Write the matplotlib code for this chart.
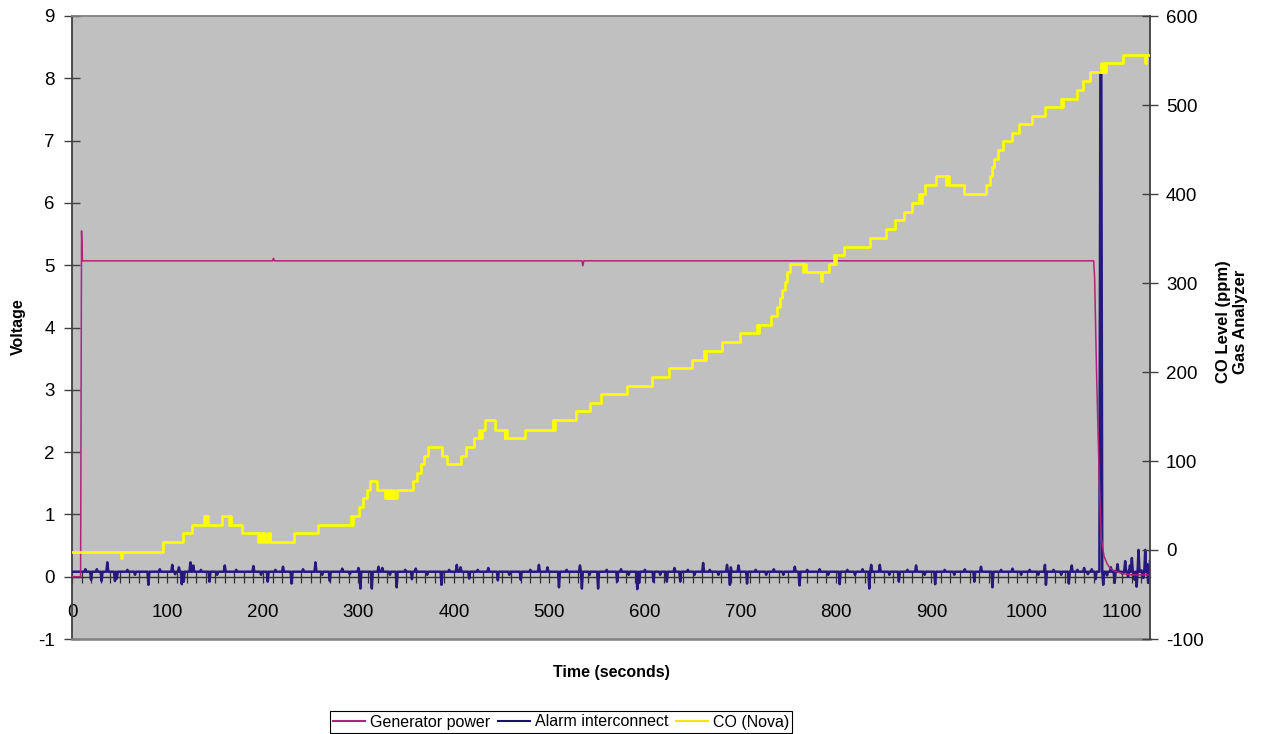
import numpy as np
import matplotlib
matplotlib.use("Agg")
import matplotlib.pyplot as plt
from matplotlib.ticker import MultipleLocator
from matplotlib.lines import Line2D

plt.rcParams['font.family'] = ['Liberation Sans', 'DejaVu Sans']
plt.rcParams['axes.unicode_minus'] = False

# ---------------- data ----------------
# Generator power (V)
GEN_T = [0, 9, 10, 11, 210, 211, 212, 534, 535, 536, 1070, 1071, 1073, 1076,
         1078, 1081, 1084, 1087, 1091, 1094, 1100, 1110, 1129]
GEN_V = [0.0, 0.0, 5.55, 5.07, 5.07, 5.11, 5.07, 5.07, 4.99, 5.07, 5.07, 4.8,
         3.3, 1.45, 0.6, 0.32, 0.21, 0.14, 0.1, 0.08, 0.05, 0.03, 0.03]

# Alarm interconnect (V): baseline level plus read-off excursions
ALARM_BASE = 0.08
ALARM_END = 1129
ALARM_EVT_T = [14, 20, 26, 31, 37, 45, 47, 58, 66, 80, 92, 105, 108, 112, 115,
               117, 124, 127, 135, 144, 152, 160, 172, 190, 198, 205, 213, 221,
               230, 242, 255, 262, 270, 283, 291, 300, 302, 314, 321, 325, 333,
               340, 349, 356, 360, 372, 387, 395, 403, 407, 416, 425, 436, 446,
               458, 470, 480, 489, 498, 510, 518, 532, 534, 542, 551, 560, 571,
               575, 583, 592, 594, 600, 609, 616, 623, 631, 637, 645, 652, 661,
               668, 677, 686, 689, 690, 698, 707, 716, 727, 735, 745, 757, 762,
               770, 783, 792, 804, 812, 820, 828, 835, 837, 846, 856, 866, 875,
               884, 893, 904, 914, 924, 935, 945, 952, 964, 973, 985, 994, 1003,
               1012, 1019, 1020, 1028, 1036, 1044, 1047, 1053, 1060, 1064, 1068,
               1072, 1077, 1078, 1080, 1084, 1088, 1092, 1095, 1100, 1103, 1106,
               1108, 1110, 1113, 1115, 1117, 1120, 1122, 1124, 1126, 1127, 1129]
ALARM_EVT_V = [0.12, -0.05, 0.12, -0.07, 0.23, -0.07, -0.03, 0.11, 0.03, -0.13,
               0.12, 0.19, 0.04, 0.15, -0.12, -0.08, 0.23, 0.18, 0.11, -0.08,
               0.03, 0.18, 0.11, 0.17, 0.03, -0.08, 0.11, 0.16, -0.11, 0.12,
               0.23, 0.03, -0.07, 0.13, 0.04, 0.14, -0.19, -0.19, 0.16, 0.14,
               0.03, -0.17, 0.11, -0.04, 0.13, 0.03, -0.13, 0.11, 0.19, 0.15,
               -0.03, 0.11, 0.14, -0.06, 0.03, -0.05, 0.11, 0.19, 0.15, -0.17,
               0.11, 0.18, -0.19, 0.03, -0.19, 0.11, -0.08, 0.12, 0.03, -0.2,
               -0.1, 0.11, -0.08, 0.03, -0.08, 0.14, -0.08, 0.11, 0.03, 0.22,
               0.11, 0.03, 0.19, -0.13, 0.15, 0.18, -0.11, 0.11, 0.03, 0.12,
               0.03, 0.16, -0.14, 0.11, 0.12, 0.03, -0.12, 0.11, 0.03, 0.12,
               -0.19, 0.19, 0.19, 0.03, -0.08, 0.11, 0.18, 0.03, -0.12, 0.11,
               0.03, 0.12, -0.08, 0.16, -0.17, 0.11, 0.13, 0.03, 0.11, 0.03,
               0.19, -0.13, 0.11, 0.03, -0.11, 0.18, 0.11, 0.14, 0.04, 0.12,
               -0.04, 8.1, 8.1, -0.13, 0.02, 0.15, -0.1, 0.2, 0.05, 0.25, 0.0,
               0.18, 0.3, -0.05, -0.16, 0.43, 0.1, -0.02, 0.43, 0.2, -0.1, 0.25]

# CO (Nova), ppm, step changes (start time, level)
CO_T = [0, 51, 52, 95, 116, 126, 138, 139, 140, 142, 157, 164, 165, 167, 178,
        195, 196, 198, 200, 202, 205, 207, 233, 258, 292, 293, 294, 301, 305,
        309, 312, 319, 328, 330, 331, 333, 334, 336, 337, 340, 357, 361, 366,
        369, 373, 387, 393, 407, 413, 421, 426, 427, 429, 433, 443, 453, 454,
        456, 474, 504, 505, 506, 528, 542, 554, 581, 607, 625, 649, 662, 663,
        664, 681, 700, 717, 718, 719, 732, 738, 741, 744, 747, 749, 752, 766,
        767, 769, 784, 785, 793, 798, 799, 800, 808, 836, 852, 862, 871, 880,
        887, 889, 890, 893, 905, 915, 916, 919, 934, 957, 961, 964, 966, 970,
        975, 984, 992, 1005, 1019, 1036, 1037, 1038, 1053, 1059, 1066, 1078,
        1079, 1081, 1082, 1083, 1101, 1124, 1125, 1129]
CO_PPM = [-2, -9, -2, 9, 19, 28, 38, 28, 38, 28, 38, 28, 38, 28, 19,
          9, 19, 9, 19, 9, 19, 9, 19, 28, 38, 28, 38, 48, 58,
          67, 77, 67, 58, 67, 58, 67, 58, 67, 58, 67, 77, 87, 97,
          106, 116, 106, 97, 106, 116, 126, 135, 126, 135, 146, 135, 126, 135,
          126, 135, 146, 135, 146, 156, 165, 175, 184.5, 194, 204, 214, 224, 214,
          224, 234, 243.5, 253, 243.5, 253, 263, 273, 283, 292, 301.5, 312, 321, 312,
          321, 312, 302, 312, 321, 331, 321, 331, 341, 351, 361, 371, 380, 390,
          400, 390, 400, 410, 420, 410, 420, 410, 400, 410, 420, 430, 439, 449,
          459, 469, 479, 488, 497.5, 507, 497.5, 507, 517, 527, 537, 547,
          537, 547, 537, 547, 556, 547, 556, 556]

LEGEND_LABELS = ["Generator power", "Alarm interconnect", "CO (Nova)"]

# ---------------- build alarm series ----------------
alarm_t = np.arange(0, ALARM_END + 1)
alarm_v = np.full(alarm_t.shape, ALARM_BASE, dtype=float)
for t, v in zip(ALARM_EVT_T, ALARM_EVT_V):
    alarm_v[t] = v

# ---------------- figure ----------------
W, H = 1262, 734
fig = plt.figure(figsize=(W / 100, H / 100), dpi=100)
L, R, T, B = 72, 1150, 16, 639
ax = fig.add_axes([L / W, 1 - B / H, (R - L) / W, (B - T) / H])
ax.set_facecolor('#C0C0C0')

c_gen = '#AE2478'
c_alarm = '#27197C'
c_co = '#FFFF00'

ax.plot(alarm_t, alarm_v, color=c_alarm, lw=1.8, zorder=3)
ax.plot(GEN_T, GEN_V, color=c_gen, lw=1.1, zorder=4)

ax.set_xlim(0, 1129)
ax.set_ylim(-1, 9)
ax.yaxis.set_major_locator(MultipleLocator(1))
ax.xaxis.set_major_locator(MultipleLocator(100))
ax.xaxis.set_minor_locator(MultipleLocator(10))

ax.spines['bottom'].set_position(('data', 0))
ax.spines['bottom'].set_color('#303030')
ax.spines['bottom'].set_linewidth(1.0)
ax.spines['left'].set_color('#404040')
ax.spines['left'].set_linewidth(1.3)
ax.spines['right'].set_visible(False)
ax.spines['top'].set_color('#808080')
ax.spines['top'].set_linewidth(1.3)
ax.axhline(-1, color='#808080', lw=1.8, clip_on=False, zorder=5)

ax.tick_params(axis='x', which='both', direction='inout', length=8,
               width=0.9, color='#303030', labelsize=13.5, pad=16)
ax.tick_params(axis='y', which='major', direction='inout', length=11,
               width=1.0, color='#404040', labelsize=13.5, pad=7)

ax2 = ax.twinx()
ax2.plot(CO_T, CO_PPM, color=c_co, lw=1.9, drawstyle='steps-post', zorder=3)
ax2.set_ylim(-100, 600)
ax2.yaxis.set_major_locator(MultipleLocator(100))
ax2.spines['right'].set_color('#404040')
ax2.spines['right'].set_linewidth(1.3)
for s in ['left', 'top', 'bottom']:
    ax2.spines[s].set_visible(False)
ax2.tick_params(axis='y', which='major', direction='inout', length=11,
                width=1.0, color='#404040', labelsize=13.5, pad=6)

# labels
fig.text(18 / W, 1 - 327 / H, 'Voltage', rotation=90, ha='center',
         va='center', fontsize=11.5, fontweight='bold')
fig.text(611 / W, 1 - 672 / H, 'Time (seconds)', ha='center', va='center',
         fontsize=11.5, fontweight='bold')
fig.text(1232 / W, 1 - 322 / H, 'CO Level (ppm)\nGas Analyzer', rotation=90,
         ha='center', va='center', fontsize=12, fontweight='bold',
         multialignment='center', linespacing=1.15)

handles = [Line2D([], [], color=c_gen, lw=1.5),
           Line2D([], [], color='#1A1070', lw=1.5),
           Line2D([], [], color='#F0E800', lw=1.5)]
leg = fig.legend(handles, LEGEND_LABELS, loc='center', ncol=3,
                 bbox_to_anchor=(561 / W, 1 - 722 / H), fontsize=11.5,
                 frameon=True, fancybox=False, framealpha=1,
                 edgecolor='black', borderpad=0.2, handlelength=2.0,
                 handletextpad=0.3, columnspacing=0.5, borderaxespad=0)
leg.get_frame().set_linewidth(0.8)

fig.savefig('out.png', dpi=100)
